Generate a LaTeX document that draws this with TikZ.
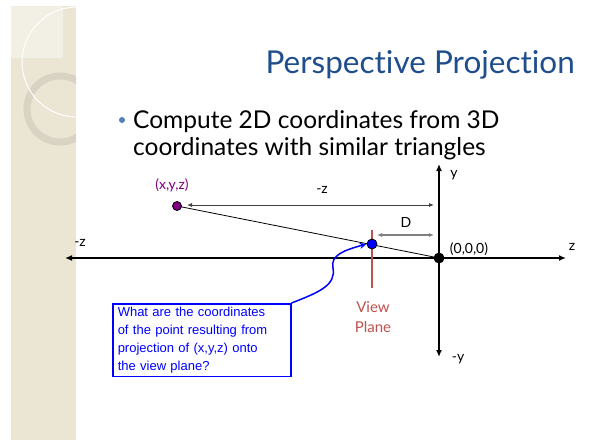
\documentclass[tikz,border=0pt]{standalone}
\usepackage{fontspec}
\setmainfont{Lato}[Ligatures={NoCommon}]
\newfontfamily\calloutfont{Liberation Sans}
\usepackage{xcolor}
\usetikzlibrary{arrows.meta, positioning, calc, backgrounds}

\definecolor{bandbeige}{HTML}{EBE6D4}
\definecolor{bandlight}{HTML}{F2EFE4}
\definecolor{ringgray}{HTML}{D8D3C2}
\definecolor{titleblue}{HTML}{1F4E8C}
\definecolor{bulletblue}{HTML}{4F81BD}
\definecolor{planered}{HTML}{C0504D}
\definecolor{pointpurple}{HTML}{800080}

\begin{document}
\begin{tikzpicture}[x=1pt, y=-1pt,
    axis/.style={line width=2.2pt, {Latex[length=7pt,width=6pt]}-{Latex[length=7pt,width=6pt]}},
    dimline/.style={line width=0.8pt, {Latex[length=5pt,width=4pt]}-{Latex[length=5pt,width=4pt]}},
    dot/.style={circle, draw=black, line width=0.8pt, inner sep=0pt, minimum size=#1},
    lbl/.style={font=\fontsize{14}{16}\selectfont},
    bodytext/.style={font=\fontsize{24.5}{30}\selectfont, anchor=base west, inner sep=0pt},
]
    \useasboundingbox (0,0) rectangle (606,440);

    % Side band with rings
    \fill[bandbeige] (11,6) rectangle (76,440);
    \fill[bandlight] (11,6) rectangle (63,58);
    \begin{scope}
        \clip (11,6) rectangle (76,440);
        \draw[ringgray, line width=7pt] (60,109) circle (33pt);
        \draw[white, line width=1pt] (77,62) circle (55pt);
    \end{scope}

    % Title and bullet text
    \node[font=\fontsize{31.5}{34}\selectfont, text=titleblue, anchor=base east, inner sep=0pt] (title) at (575,73) {Perspective Projection};
    \fill[bulletblue] (122,120) circle (3pt);
    \node[bodytext] (line1) at (133,128) {Compute 2D coordinates from 3D};
    \node[bodytext] (line2) at (133,155) {coordinates with similar triangles};

    % Axes
    \coordinate (zneg) at (65,258);
    \coordinate (zpos) at (566,258);
    \coordinate (ypos) at (439,164);
    \coordinate (yneg) at (439,357);
    \draw[axis] (zneg) -- (zpos);
    \draw[axis] (ypos) -- (yneg);
    \node[lbl] (zneglbl) at (80,243) {-z};
    \node[lbl] (zposlbl) at (572,247) {z};
    \node[lbl] (yposlbl) at (454,175) {y};
    \node[lbl] (yneglbl) at (458,359) {-y};
    \node[lbl] (originlbl) at (469,249) {(0,0,0)};

    % View plane
    \coordinate (vptop) at (372,230);
    \coordinate (vpbot) at (372,288);
    \draw[planered, line width=2.2pt] (vptop) -- (vpbot);
    \node[text=planered, align=center, font=\fontsize{15}{20}\selectfont] (vplbl) at (373,317) {View\\Plane};

    % Points and ray
    \node[dot=10pt, fill=black] (origin) at (439,258) {};
    \node[dot=9pt, fill=pointpurple] (pt) at (177,206) {};
    \node[dot=10pt, fill=blue] (proj) at (372,244) {};
    \begin{scope}[on background layer]
        \draw[line width=0.8pt] (pt.center) -- (origin.center);
    \end{scope}
    \node[lbl, text=pointpurple] (ptlbl) at (172,185) {(x,y,z)};

    % Distances
    \coordinate (zdimL) at (187,205);
    \coordinate (zdimR) at (434,205);
    \draw[dimline, black!75] (zdimL) -- (zdimR);
    \node[lbl] (zdimlbl) at (322,190) {-z};
    \coordinate (ddimL) at (377,235);
    \coordinate (ddimR) at (434,235);
    \draw[dimline, gray, line width=1.8pt] (ddimL) -- (ddimR);
    \node[lbl] (ddimlbl) at (406,222) {D};

    % Callout
    \node[draw=blue, line width=1.5pt, text=blue, align=left, anchor=north west,
          inner xsep=5pt, inner ysep=3pt, text width=168pt,
          font=\calloutfont\fontsize{13}{18.2}\selectfont] (question) at (112,303)
        {What are the coordinates\\of the point resulting from\\projection of (x,y,z) onto\\the view plane?};
    \draw[blue, line width=1.5pt, -{Stealth[length=7pt,width=6pt]}] (question.north east)
        .. controls (320,292) and (336,285) .. (333,268)
        .. controls (330,255) and (345,250) .. (proj.west);
\end{tikzpicture}
\end{document}
